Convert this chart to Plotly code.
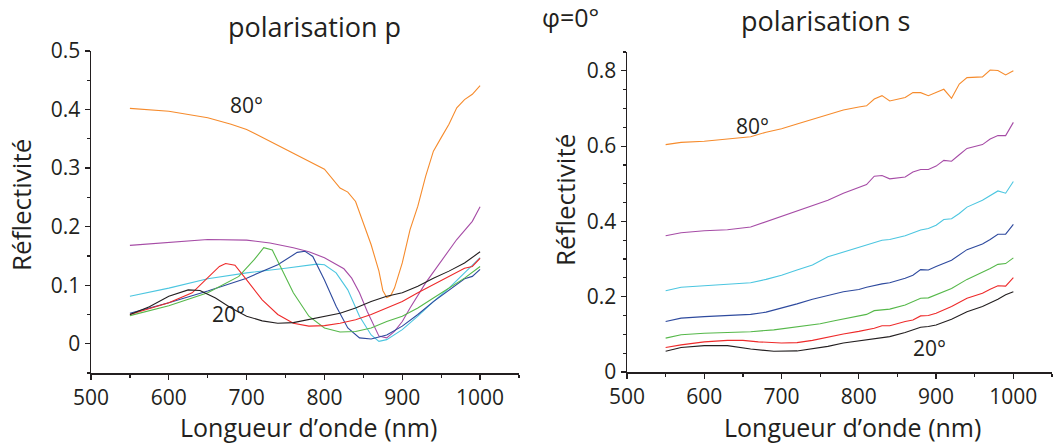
import plotly.graph_objects as go

# ---------------- data ----------------
# polarisation p (left)
p_orange_x = [550,600,650,680,700,760,800,820,830,840,850,860,870,875,880,885,890,900,910,920,930,940,950,960,970,980,990,1000]
p_orange_y = [0.402,0.397,0.386,0.375,0.366,0.326,0.298,0.266,0.259,0.243,0.206,0.169,0.124,0.091,0.079,0.082,0.095,0.138,0.195,0.235,0.286,0.329,0.352,0.375,0.403,0.417,0.426,0.441]

p_purple_x = [550,600,650,700,730,760,780,800,815,825,835,845,855,865,870,880,890,900,910,930,950,970,990,1000]
p_purple_y = [0.168,0.173,0.178,0.177,0.172,0.164,0.157,0.147,0.135,0.128,0.112,0.087,0.055,0.027,0.013,0.010,0.021,0.038,0.061,0.104,0.141,0.178,0.209,0.234]

p_cyan_x = [550,600,650,700,750,790,800,815,830,845,860,870,880,900,920,940,960,980,1000]
p_cyan_y = [0.081,0.095,0.111,0.121,0.129,0.136,0.135,0.121,0.092,0.047,0.015,0.004,0.007,0.024,0.047,0.072,0.095,0.121,0.147]

p_blue_x = [550,600,650,700,740,765,775,785,800,815,830,845,860,880,900,920,940,960,980,990,1000]
p_blue_y = [0.052,0.070,0.090,0.112,0.135,0.156,0.158,0.149,0.109,0.064,0.027,0.010,0.008,0.015,0.030,0.050,0.072,0.092,0.111,0.115,0.127]

p_green_x = [550,600,650,690,710,722,733,745,760,780,800,820,840,860,880,900,920,940,960,980,1000]
p_green_y = [0.048,0.065,0.087,0.115,0.144,0.164,0.160,0.127,0.087,0.047,0.027,0.020,0.021,0.027,0.038,0.047,0.061,0.078,0.095,0.112,0.132]

p_red_x = [550,600,630,650,665,673,685,700,720,740,760,780,800,820,840,860,880,900,920,940,960,980,990,1000]
p_red_y = [0.050,0.070,0.087,0.112,0.132,0.137,0.134,0.109,0.075,0.050,0.035,0.030,0.031,0.035,0.041,0.050,0.061,0.072,0.087,0.101,0.115,0.129,0.132,0.146]

p_black_x = [550,575,600,625,640,660,680,700,720,740,760,780,800,820,840,860,880,900,920,940,960,980,1000]
p_black_y = [0.050,0.063,0.081,0.092,0.091,0.078,0.061,0.047,0.039,0.035,0.036,0.041,0.047,0.052,0.061,0.072,0.081,0.087,0.098,0.112,0.124,0.138,0.157]

# polarisation s (right)
s_orange_x = [550,570,600,630,660,680,700,720,740,760,780,800,810,820,830,840,860,870,880,890,910,920,930,940,960,970,980,990,1000]
s_orange_y = [0.604,0.610,0.613,0.619,0.625,0.637,0.646,0.659,0.672,0.685,0.696,0.704,0.707,0.725,0.734,0.720,0.729,0.742,0.742,0.734,0.751,0.727,0.765,0.782,0.784,0.802,0.801,0.789,0.800]

s_purple_x = [550,570,600,630,660,680,700,720,740,760,780,800,810,820,830,840,860,870,880,890,900,910,920,930,940,960,970,980,990,1000]
s_purple_y = [0.362,0.370,0.375,0.378,0.385,0.399,0.412,0.428,0.441,0.456,0.475,0.491,0.498,0.520,0.522,0.513,0.518,0.531,0.538,0.538,0.547,0.562,0.560,0.577,0.594,0.604,0.619,0.628,0.628,0.663]

s_cyan_x = [550,570,600,630,660,680,700,720,740,760,780,800,820,830,840,860,880,890,900,910,920,930,940,960,980,990,1000]
s_cyan_y = [0.216,0.225,0.229,0.234,0.237,0.246,0.257,0.271,0.284,0.306,0.319,0.332,0.343,0.350,0.352,0.362,0.377,0.381,0.390,0.405,0.407,0.421,0.438,0.456,0.481,0.475,0.506]

s_blue_x = [550,570,600,640,660,680,700,720,740,760,780,800,810,830,840,860,870,880,890,900,920,940,960,970,980,990,1000]
s_blue_y = [0.134,0.143,0.147,0.151,0.153,0.159,0.169,0.181,0.193,0.204,0.213,0.219,0.225,0.234,0.237,0.249,0.257,0.272,0.271,0.280,0.297,0.325,0.340,0.352,0.366,0.366,0.392]

s_green_x = [550,570,600,630,660,690,720,750,770,800,810,820,840,860,870,880,890,900,910,920,940,960,970,980,990,1000]
s_green_y = [0.090,0.099,0.103,0.105,0.107,0.112,0.119,0.128,0.137,0.149,0.153,0.163,0.167,0.178,0.187,0.196,0.197,0.205,0.215,0.222,0.246,0.264,0.275,0.286,0.288,0.303]

s_red_x = [550,570,600,630,650,670,700,720,740,760,780,800,820,830,840,860,870,880,890,900,920,940,960,970,980,990,1000]
s_red_y = [0.065,0.072,0.080,0.084,0.084,0.080,0.077,0.078,0.084,0.093,0.101,0.108,0.116,0.123,0.123,0.134,0.138,0.149,0.150,0.156,0.174,0.196,0.209,0.220,0.229,0.228,0.251]

s_black_x = [550,570,600,630,660,690,720,740,760,780,800,820,840,860,870,880,890,900,920,940,960,980,990,1000]
s_black_y = [0.055,0.065,0.070,0.070,0.061,0.055,0.056,0.062,0.068,0.077,0.083,0.090,0.094,0.105,0.112,0.119,0.121,0.125,0.140,0.160,0.174,0.193,0.205,0.213]

colors = {
    "orange": "#F68B2C",
    "purple": "#A64CA6",
    "cyan": "#4CC6E0",
    "blue": "#2E4A9E",
    "green": "#56B84A",
    "red": "#EE2A2A",
    "black": "#231F20",
}

p_series = [("orange", p_orange_x, p_orange_y), ("purple", p_purple_x, p_purple_y),
            ("cyan", p_cyan_x, p_cyan_y), ("blue", p_blue_x, p_blue_y),
            ("green", p_green_x, p_green_y), ("red", p_red_x, p_red_y),
            ("black", p_black_x, p_black_y)]
s_series = [("orange", s_orange_x, s_orange_y), ("purple", s_purple_x, s_purple_y),
            ("cyan", s_cyan_x, s_cyan_y), ("blue", s_blue_x, s_blue_y),
            ("green", s_green_x, s_green_y), ("red", s_red_x, s_red_y),
            ("black", s_black_x, s_black_y)]

FONT = "Open Sans"
TXT = "#231F20"
W, H = 1062, 445

def px(x):
    return x / W

def py(y):
    return 1 - y / H

fig = go.Figure()
for name, x, y in p_series:
    fig.add_trace(go.Scatter(x=x, y=y, mode="lines", line=dict(color=colors[name], width=1.1),
                             xaxis="x", yaxis="y", showlegend=False, hoverinfo="skip"))
for name, x, y in s_series:
    fig.add_trace(go.Scatter(x=x, y=y, mode="lines", line=dict(color=colors[name], width=1.1),
                             xaxis="x2", yaxis="y2", showlegend=False, hoverinfo="skip"))

axis_common = dict(showline=True, linecolor=TXT, linewidth=1.5, showgrid=False, zeroline=False,
                   automargin=False,
                   ticks="outside", ticklen=5, tickwidth=1.2, tickcolor=TXT,
                   tickfont=dict(family=FONT, size=21, color=TXT))

fig.update_layout(
    template="none",
    width=W, height=H,
    margin=dict(l=0, r=0, t=0, b=0, autoexpand=False),
    paper_bgcolor="white", plot_bgcolor="white",
    hovermode=False,
    xaxis=dict(domain=[px(91), px(519)], range=[500, 1050], dtick=100, tick0=500, anchor="y",
               minor=dict(ticks="outside", dtick=50, ticklen=3, tickcolor=TXT), **axis_common),
    yaxis=dict(domain=[py(373), py(51)], range=[-0.05, 0.5], dtick=0.1, tick0=0, anchor="x",
               minor=dict(ticks="outside", dtick=0.05, ticklen=3, tickcolor=TXT), **axis_common),
    xaxis2=dict(domain=[px(627), px(1052)], range=[500, 1050], dtick=100, tick0=500, anchor="y2",
                minor=dict(ticks="outside", dtick=50, ticklen=3, tickcolor=TXT), **axis_common),
    yaxis2=dict(domain=[py(372), py(52)], range=[0, 0.85], dtick=0.2, tick0=0, anchor="x2",
                minor=dict(ticks="outside", dtick=0.05, ticklen=3, tickcolor=TXT), **axis_common),
)

ann = []
def txt(text, x, y, size, xref="paper", yref="paper", xanchor="center", yanchor="middle", angle=0):
    ann.append(dict(text=text, x=x, y=y, xref=xref, yref=yref, xanchor=xanchor, yanchor=yanchor,
                    showarrow=False, textangle=angle, font=dict(family=FONT, size=size, color=TXT)))

txt("polarisation p", px(314), py(27), 27)
txt("polarisation s", px(825), py(21), 27)
txt("φ=0°", px(570), py(17), 25)
txt("Réflectivité", px(21), py(205), 26, angle=-90)
txt("Réflectivité", px(565), py(200), 26, angle=-90)
txt("Longueur d’onde (nm)", px(308), py(427), 25)
txt("Longueur d’onde (nm)", px(853), py(427), 25)
txt("80°", 676, 0.407, 21, xref="x", yref="y", xanchor="left")
txt("20°", 653, 0.05, 21, xref="x", yref="y", xanchor="left")
txt("80°", 638, 0.654, 21, xref="x2", yref="y2", xanchor="left")
txt("20°", 868, 0.064, 21, xref="x2", yref="y2", xanchor="left")
fig.update_layout(annotations=ann)

fig.write_html("out.html", config={"displayModeBar": False, "staticPlot": True},
               post_script="document.body.style.margin='0';")
